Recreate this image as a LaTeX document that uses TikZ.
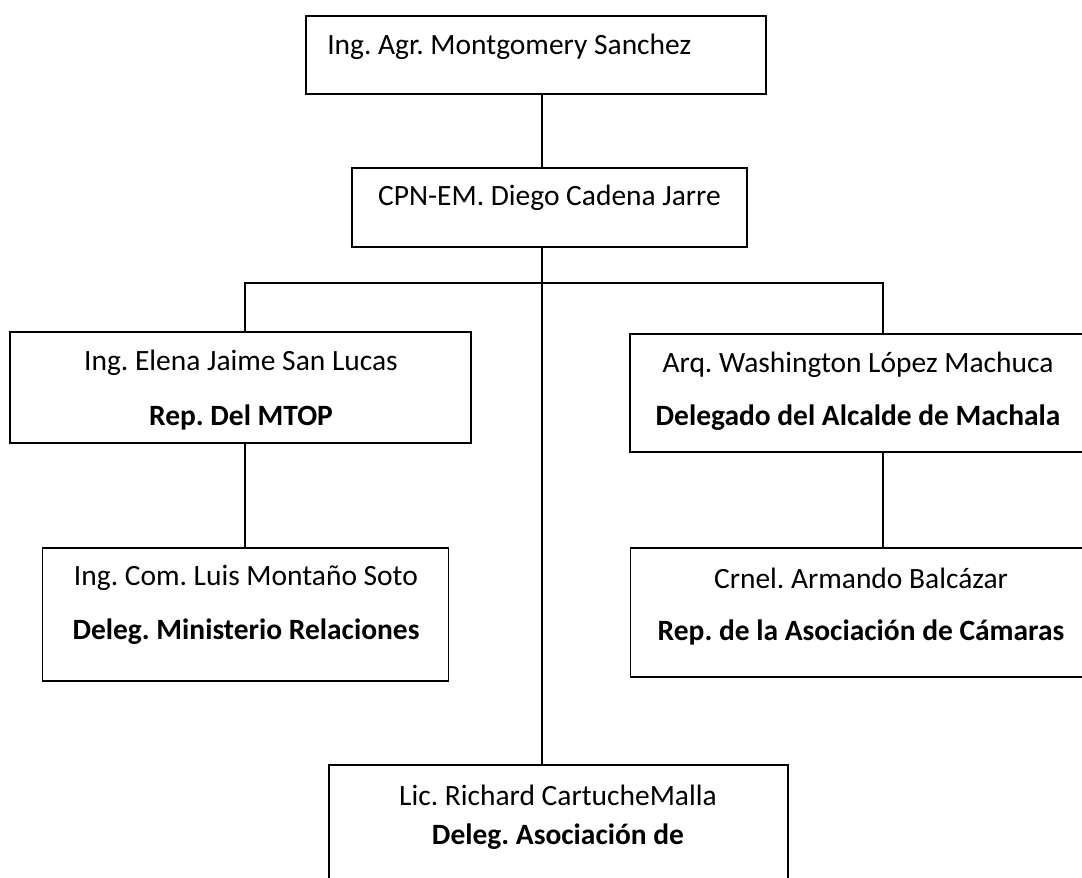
\documentclass[tikz,border=0pt]{standalone}
\usepackage{fontspec}
\setmainfont{Carlito}
\usepackage{tikz}
\frenchspacing

\tikzset{
  caja/.style={draw=black,line width=1.2pt,rectangle,inner sep=0pt},
  linea/.style={draw=black,line width=0.9pt},
  texto/.style={inner sep=0pt,font=\fontsize{22.1}{27}\selectfont},
  negrita/.style={texto,font=\fontsize{22.1}{27}\selectfont\bfseries}
}

\begin{document}
\begin{tikzpicture}[x=0.75pt,y=0.75pt,yscale=-1,xscale=1]
			\useasboundingbox (0,0) rectangle (1082,878);
			\clip (0,0) rectangle (1082,878);
			
			% cajas
			\node[caja,minimum width=345pt,minimum height=58.5pt] (agr) at (536,55) {};
			\node[caja,minimum width=296.25pt,minimum height=59.25pt] (cpn) at (549.5,207.5) {};
			\node[caja,minimum width=345.75pt,minimum height=83.25pt] (elena) at (240.5,387.5) {};
			\node[caja,minimum width=345pt,minimum height=88.5pt] (wash) at (860,393) {};
			\node[caja,minimum width=304.5pt,minimum height=99.75pt] (luis) at (245.5,614.5) {};
			\node[caja,minimum width=345pt,minimum height=96.75pt] (crnel) at (860.5,612.5) {};
			\node[caja,minimum width=344.25pt,minimum height=150pt] (lic) at (558.5,865) {};
			
			% uniones
			\coordinate (j) at (542,283);
			\coordinate (jl) at (245,283);
			\coordinate (jr) at (883,283);
			
			\draw[linea] (j |- agr.south) -- (j |- cpn.north);
			\draw[linea] (j |- cpn.south) -- (j);
			\draw[linea] (jl |- elena.north) -- (jl) -- (jr) -- (jr |- wash.north);
			\draw[linea] (j) -- (j |- lic.north);
			\draw[linea] (jl |- elena.south) -- (jl |- luis.north);
			\draw[linea] (jr |- wash.south) -- (jr |- crnel.north);
			
			% textos
			\node[texto,anchor=west] (tagr) at (327,47) {Ing. Agr. Montgomery Sanchez};
			\node[texto] (tcpn) at (549.5,198) {CPN-EM. Diego Cadena Jarre};
			\node[texto] (telena) at (241,363) {Ing. Elena Jaime San Lucas};
			\node[negrita] (relena) at (241,417) {Rep. Del MTOP};
			\node[texto] (twash) at (858,365) {Arq. Washington López Machuca};
			\node[negrita] (rwash) at (858,418) {Delegado del Alcalde de Machala};
			\node[texto] (tluis) at (246,578) {Ing. Com. Luis Montaño Soto};
			\node[negrita] (rluis) at (246,632) {Deleg. Ministerio Relaciones};
			\node[texto] (tcrnel) at (861,578) {Crnel. Armando Balcázar};
			\node[negrita] (rcrnel) at (861,632) {Rep. de la Asociación de Cámaras};
			\node[texto] (tlic) at (558,795) {Lic. Richard CartucheMalla};
			\node[negrita] (rlic) at (558,837) {Deleg. Asociación de};
\end{tikzpicture}
\end{document}
